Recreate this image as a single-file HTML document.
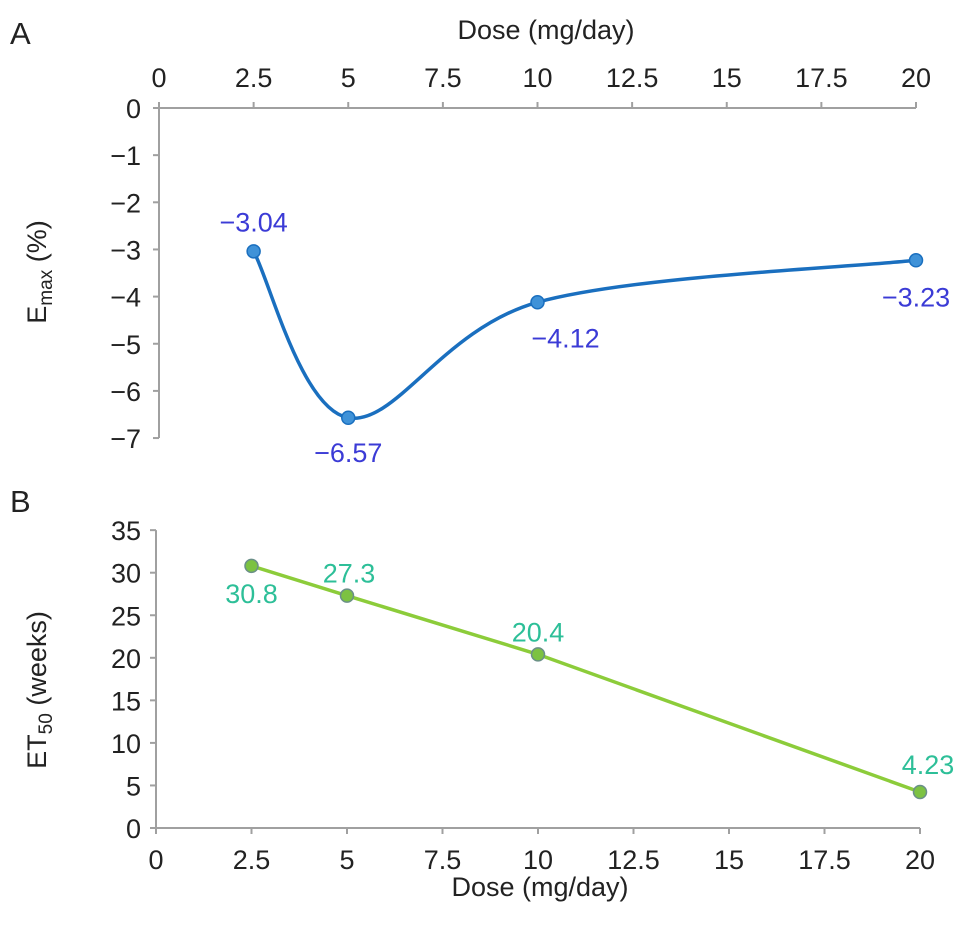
<!DOCTYPE html>
<html><head><meta charset="utf-8"><style>
html,body{margin:0;padding:0;background:#fff}
svg{display:block;font-family:"Liberation Sans",Arial,sans-serif}
</style></head><body>
<svg id="chart" width="969" height="930" viewBox="0 0 969 930" xmlns="http://www.w3.org/2000/svg">
<text x="10" y="44" font-size="31" fill="#222">A</text>
<text x="10" y="512" font-size="31" fill="#222">B</text>
<text x="546" y="39" font-size="27" text-anchor="middle" fill="#222">Dose (mg/day)</text>
<text x="540" y="896" font-size="27" text-anchor="middle" fill="#222">Dose (mg/day)</text>
<text transform="translate(46,272) rotate(-90)" font-size="27" text-anchor="middle" fill="#222">E<tspan font-size="19" dy="6">max</tspan><tspan dy="-6"> (%)</tspan></text>
<text transform="translate(46,690) rotate(-90)" font-size="27" text-anchor="middle" fill="#222">ET<tspan font-size="19" dy="6">50</tspan><tspan dy="-6"> (weeks)</tspan></text>
<g id="ga"></g><g id="gb"></g>
</svg>
<script>
const doses = [2.5, 5, 10, 20];
const emaxValues = [-3.04, -6.57, -4.12, -3.23];
const et50Values = [30.8, 27.3, 20.4, 4.23];
const xTicks = [0, 2.5, 5, 7.5, 10, 12.5, 15, 17.5, 20];
const xTickLabels = ["0", "2.5", "5", "7.5", "10", "12.5", "15", "17.5", "20"];
const emaxTicks = [0, -1, -2, -3, -4, -5, -6, -7];
const emaxTickLabels = ["0", "\u22121", "\u22122", "\u22123", "\u22124", "\u22125", "\u22126", "\u22127"];
const et50Ticks = [0, 5, 10, 15, 20, 25, 30, 35];
const et50TickLabels = ["0", "5", "10", "15", "20", "25", "30", "35"];
const emaxLabels = ["\u22123.04", "\u22126.57", "\u22124.12", "\u22123.23"];
const et50Labels = ["30.8", "27.3", "20.4", "4.23"];

const NS = "http://www.w3.org/2000/svg";
function mk(parent, tag, attrs, txt) {
  const e = document.createElementNS(NS, tag);
  for (const k in attrs) e.setAttribute(k, attrs[k]);
  if (txt !== undefined) e.textContent = txt;
  parent.appendChild(e);
  return e;
}
const xA = v => 159 + v * 37.85;
const yA = v => 108 - v * 47.15;
const xB = v => 156 + v * 38.2;
const yB = v => 828 - v * 8.51;
const ga = document.getElementById('ga');
const gb = document.getElementById('gb');
const axisCol = "#a0a0a0";
const FS = 27;

let el = mk(ga, 'line', {x1: xA(0) - 5, x2: xA(20), y1: yA(0), y2: yA(0), stroke: axisCol, 'stroke-width': 2});


el = mk(ga, 'line', {x1: xA(0), x2: xA(0), y1: yA(0), y2: yA(-7), stroke: axisCol, 'stroke-width': 2});


xTicks.forEach((t, i) => {
  mk(ga, 'line', {x1: xA(t), x2: xA(t), y1: yA(0) - 6, y2: yA(0), stroke: axisCol, 'stroke-width': 2});
  const tx = mk(ga, 'text', {x: xA(t), y: 87, 'font-size': FS, 'text-anchor': 'middle', fill: '#222'}, xTickLabels[i]);
  
  
});
emaxTicks.forEach((t, i) => {
  mk(ga, 'line', {x1: xA(0) - 6, x2: xA(0), y1: yA(t), y2: yA(t), stroke: axisCol, 'stroke-width': 2});
  const tx = mk(ga, 'text', {x: 141, y: yA(t) + 10, 'font-size': FS, 'text-anchor': 'end', fill: '#222'}, emaxTickLabels[i]);
  
  
});
const pA = doses.map((d, i) => [xA(d), yA(emaxValues[i])]);
let d = `M${pA[0][0]},${pA[0][1]}`;
for (let i = 0; i < pA.length - 1; i++) {
  const p0 = pA[i - 1] || pA[i], p1 = pA[i], p2 = pA[i + 1], p3 = pA[i + 2] || p2;
  const c1 = [p1[0] + (p2[0] - p0[0]) / 6, p1[1] + (p2[1] - p0[1]) / 6];
  const c2 = [p2[0] - (p3[0] - p1[0]) / 6, p2[1] - (p3[1] - p1[1]) / 6];
  d += ` C${c1[0]},${c1[1]} ${c2[0]},${c2[1]} ${p2[0]},${p2[1]}`;
}
el = mk(ga, 'path', {d: d, fill: 'none', stroke: '#1a6fbf', 'stroke-width': 3.5});


const offA = [[0, -20], [0, 44], [28, 45], [0, 46]];
pA.forEach((p, i) => {
  const c = mk(ga, 'circle', {cx: p[0], cy: p[1], r: 6.5, fill: '#3f92d8', stroke: '#1a6fbf', 'stroke-width': 1.5});
  
  
  const t = mk(ga, 'text', {x: p[0] + offA[i][0], y: p[1] + offA[i][1], 'font-size': FS, 'text-anchor': 'middle', fill: '#3b3bd6'}, emaxLabels[i]);
  
  
});

el = mk(gb, 'line', {x1: xB(0), x2: xB(20), y1: yB(0), y2: yB(0), stroke: axisCol, 'stroke-width': 2});


el = mk(gb, 'line', {x1: xB(0), x2: xB(0), y1: yB(0), y2: yB(35), stroke: axisCol, 'stroke-width': 2});


xTicks.forEach((t, i) => {
  mk(gb, 'line', {x1: xB(t), x2: xB(t), y1: yB(0), y2: yB(0) + 6, stroke: axisCol, 'stroke-width': 2});
  const tx = mk(gb, 'text', {x: xB(t), y: 869, 'font-size': FS, 'text-anchor': 'middle', fill: '#222'}, xTickLabels[i]);
  
  
});
et50Ticks.forEach((t, i) => {
  mk(gb, 'line', {x1: xB(0) - 6, x2: xB(0), y1: yB(t), y2: yB(t), stroke: axisCol, 'stroke-width': 2});
  const tx = mk(gb, 'text', {x: 141, y: yB(t) + 10, 'font-size': FS, 'text-anchor': 'end', fill: '#222'}, et50TickLabels[i]);
  
  
});
const pB = doses.map((dd, i) => [xB(dd), yB(et50Values[i])]);
el = mk(gb, 'polyline', {points: pB.map(p => p.join(',')).join(' '), fill: 'none', stroke: '#8ccc3a', 'stroke-width': 3.5});


const offB = [[0, 37], [2, -13], [0, -13], [8, -18]];
pB.forEach((p, i) => {
  const c = mk(gb, 'circle', {cx: p[0], cy: p[1], r: 6.5, fill: '#7cc242', stroke: '#6a8f88', 'stroke-width': 1.5});
  
  
  const t = mk(gb, 'text', {x: p[0] + offB[i][0], y: p[1] + offB[i][1], 'font-size': FS, 'text-anchor': 'middle', fill: '#2dbf98'}, et50Labels[i]);
  
  
});
</script>
</body></html>
